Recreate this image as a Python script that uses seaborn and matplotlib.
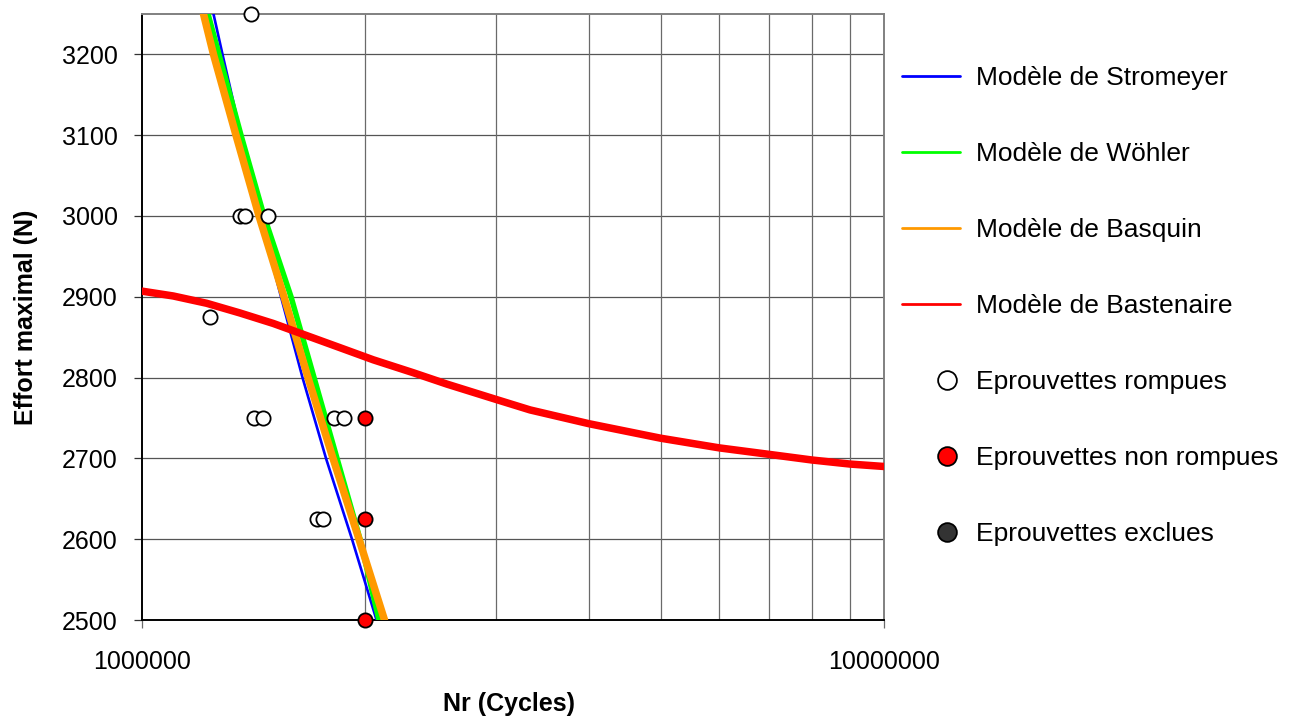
import matplotlib
matplotlib.use('Agg')
import matplotlib.pyplot as plt
from matplotlib.lines import Line2D
from matplotlib.legend_handler import HandlerLine2D
from matplotlib.ticker import FixedLocator, NullFormatter
import numpy as np
import pandas as pd
import seaborn as sns

# effort levels at which the model curves were read (N)
effort_levels = [3250, 3200, 3100, 3000, 2900, 2800, 2700, 2600, 2500]

# cycles at those levels
n_stromeyer = [1.2484e6, 1.2838e6, 1.3596e6, 1.4422e6, 1.5393e6, 1.6456e6, 1.7701e6, 1.9188e6, 2.0704e6]
n_wohler = [1.2273e6, 1.2699e6, 1.3596e6, 1.4602e6, 1.5879e6, 1.7054e6, 1.8315e6, 1.9671e6, 2.0865e6]
n_basquin = [1.2103e6, 1.2484e6, 1.3387e6, 1.4378e6, 1.5537e6, 1.6739e6, 1.8090e6, 1.9610e6, 2.1224e6]

# Bastenaire curve
n_bastenaire = [1.0e6, 1.102e6, 1.222e6, 1.355e6, 1.503e6, 1.667e6, 1.849e6, 2.05e6, 2.321e6, 2.575e6,
                3.0e6, 3.334e6, 4.0e6, 5.0e6, 6.0e6, 7.0e6, 8.0e6, 9.0e6, 1.0e7]
s_bastenaire = [2907, 2901, 2892, 2880, 2867, 2852, 2837, 2822, 2806, 2792,
                2773, 2760, 2743, 2725, 2713, 2705, 2698, 2693, 2690]

# test specimens
n_rompues = [1.4025e6, 1.3554e6, 1.3766e6, 1.4785e6, 1.2349e6, 1.4178e6, 1.4557e6, 1.8146e6, 1.8718e6, 1.7213e6, 1.7537e6]
s_rompues = [3250, 3000, 3000, 3000, 2875, 2750, 2750, 2750, 2750, 2625, 2625]
n_non_rompues = [2.0e6, 2.0e6, 2.0e6]
s_non_rompues = [2750, 2625, 2500]

legend_labels = ['Modèle de Stromeyer', 'Modèle de Wöhler', 'Modèle de Basquin', 'Modèle de Bastenaire',
                 'Eprouvettes rompues', 'Eprouvettes non rompues', 'Eprouvettes exclues']


class RightMarker(HandlerLine2D):
    # excel puts the marker toward the right of the legend key
    # (numpoints=1 marks the middle of xdata, so shift the span right)
    def get_xdata(self, legend, xdescent, ydescent, width, height, fontsize):
        xdata = np.array([0.56 * width - xdescent, width - xdescent])
        return xdata, xdata


sns.set_theme(style='white')
plt.rcParams['font.family'] = ['Liberation Sans', 'DejaVu Sans']
plt.rcParams['text.color'] = 'black'
plt.rcParams['axes.labelcolor'] = 'black'
fs = 18

fig = plt.figure(figsize=(12.97, 7.22), dpi=100)
ax = fig.add_axes([142 / 1297, 102 / 722, 742 / 1297, 606 / 722])

grid_col = '#6a6a6a'
for y in range(2600, 3250, 100):
    ax.axhline(y, color='#555555', lw=0.9, zorder=0)
for x in range(2, 10):
    ax.axvline(x * 1e6, color=grid_col, lw=0.9, zorder=0)

models = pd.DataFrame({'effort': effort_levels, 'stromeyer': n_stromeyer,
                       'wohler': n_wohler, 'basquin': n_basquin})
sns.lineplot(data=models, x='stromeyer', y='effort', sort=False, estimator=None,
             color='#0000ff', lw=1.9, ax=ax, zorder=3)
sns.lineplot(data=models, x='wohler', y='effort', sort=False, estimator=None,
             color='#00ff00', lw=4.0, ax=ax, zorder=3)
sns.lineplot(data=models, x='basquin', y='effort', sort=False, estimator=None,
             color='#ff9900', lw=5.4, ax=ax, zorder=3)
bast = pd.DataFrame({'n': n_bastenaire, 's': s_bastenaire})
sns.lineplot(data=bast, x='n', y='s', sort=False, estimator=None,
             color='#ff0000', lw=5.4, ax=ax, zorder=4)

sns.scatterplot(x=n_rompues, y=s_rompues, s=105, color='white', edgecolor='black',
                linewidth=1.3, ax=ax, zorder=5, clip_on=False)
sns.scatterplot(x=n_non_rompues, y=s_non_rompues, s=105, color='#ff0000', edgecolor='black',
                linewidth=1.3, ax=ax, zorder=5, clip_on=False)

ax.set_xscale('log')
ax.set_xlim(1e6, 1e7)
ax.set_ylim(2500, 3250)
ax.xaxis.set_major_locator(FixedLocator([1e6, 1e7]))
ax.set_xticklabels(['1000000', '10000000'])
ax.xaxis.set_minor_locator(FixedLocator([x * 1e6 for x in range(2, 10)]))
ax.xaxis.set_minor_formatter(NullFormatter())
ax.set_yticks(range(2500, 3201, 100))
ax.tick_params(axis='x', which='major', direction='out', length=5.5, width=0.9, color='#6a6a6a',
               pad=16, labelsize=fs, labelcolor='black', bottom=True)
ax.tick_params(axis='x', which='minor', length=0)
ax.tick_params(axis='y', direction='out', length=5.5, width=0.9, color='#333333',
               pad=12, labelsize=fs, labelcolor='black', left=True)

for side in ['left', 'bottom']:
    ax.spines[side].set_color('black')
    ax.spines[side].set_linewidth(1.4)
for side in ['top', 'right']:
    ax.spines[side].set_color('#808080')
    ax.spines[side].set_linewidth(1.4)

ax.set_xlabel('Nr (Cycles)', fontsize=fs, fontweight='bold')
ax.set_ylabel('Effort maximal (N)', fontsize=fs, fontweight='bold')
ax.xaxis.set_label_coords(0.495, -0.118)
ax.yaxis.set_label_coords(-0.14, 0.5)

handles = [
    Line2D([], [], color='#0000ff', lw=2),
    Line2D([], [], color='#00ff00', lw=2),
    Line2D([], [], color='#ff9900', lw=2),
    Line2D([], [], color='#ff0000', lw=2),
    Line2D([], [], ls='', marker='o', ms=13.5, mfc='white', mec='black', mew=1.3),
    Line2D([], [], ls='', marker='o', ms=13.5, mfc='#ff0000', mec='black', mew=1.3),
    Line2D([], [], ls='', marker='o', ms=13.5, mfc='#333333', mec='black', mew=1.3),
]
hmap = {h: RightMarker(numpoints=1) for h in handles[4:]}
ax.legend(handles, legend_labels, loc='upper left', bbox_to_anchor=(902 / 1297, 1 - 66 / 722),
          bbox_transform=fig.transFigure, frameon=False, fontsize=19, labelspacing=1.97,
          handlelength=2.2, handletextpad=0.6, borderaxespad=0, borderpad=0,
          handler_map=hmap)

fig.savefig('out.png', dpi=100)
